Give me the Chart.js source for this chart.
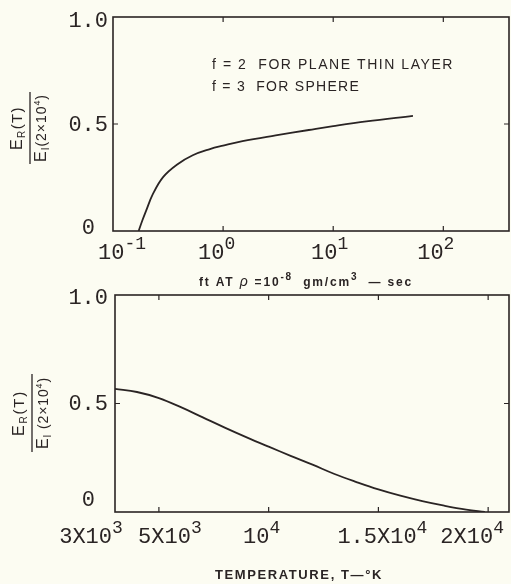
<!DOCTYPE html>
<html>
<head>
<meta charset="UTF-8">
<title>E_R(T) / E_I(2x10^4)</title>
<script src="https://cdn.jsdelivr.net/npm/chart.js"></script>
<style>
  html, body { margin: 0; padding: 0; background: #fcfcf2; }
  body { width: 511px; height: 584px; position: relative; overflow: hidden; }
  .wrap { position: absolute; left: 0; width: 511px; }
  #topWrap { top: 0; height: 292px; }
  #bottomWrap { top: 284px; height: 300px; }
</style>
</head>
<body>
<div class="wrap" id="topWrap"><canvas id="topChart"></canvas></div>
<div class="wrap" id="bottomWrap"><canvas id="bottomChart"></canvas></div>
<script>
// upper panel: ratio against ft (log axis)
const ftValues = [0.171, 0.185, 0.2, 0.23, 0.285, 0.38, 0.53, 0.76, 1.0, 1.5, 3, 6, 10, 20, 53];
const ftRatio  = [0, 0.05, 0.095, 0.172, 0.252, 0.31, 0.354, 0.383, 0.399, 0.42, 0.447, 0.472, 0.490, 0.512, 0.538];

// lower panel: ratio against temperature
const tempValues = [3000, 4000, 5000, 6000, 7000, 8000, 9000, 10000, 11000, 12000, 13000, 14000, 15000, 16000, 17000, 18000, 19000, 19850];
const tempRatio  = [0.567, 0.553, 0.525, 0.483, 0.436, 0.389, 0.344, 0.301, 0.259, 0.218, 0.175, 0.138, 0.104, 0.075, 0.050, 0.029, 0.011, 0];

const yTickValues = [0, 0.5, 1.0];
const yTickLabels = ['0', '0.5', '1.0'];

const ftTickValues = [0.1, 1, 10, 100];
const ftTickBase   = ['10', '10', '10', '10'];
const ftTickExp    = ['-1', '0', '1', '2'];

const tempTickValues = [3000, 5000, 10000, 15000, 20000];
const tempTickBase   = ['3X10', '5X10', '10', '1.5X10', '2X10'];
const tempTickExp    = ['3', '3', '4', '4', '4'];

const noteLines = ['f = 2  FOR PLANE THIN LAYER', 'f = 3  FOR SPHERE'];

const INK = '#2a2424';
const MONO = '"Liberation Mono", monospace';
const SANS = '"Liberation Sans", Arial, sans-serif';

// draws a row of text pieces (base, sub, sup ...), optionally stretched to a width
function drawRuns(ctx, runs, x, baseline, width, align) {
    ctx.save();
    let natural = 0, chars = 0;
    runs.forEach(r => {
        ctx.font = r.font;
        ctx.letterSpacing = '0px';
        r.w = ctx.measureText(r.t).width;
        natural += r.w;
        chars += r.t.length;
    });
    const extra = width ? (width - natural) / chars : 0;
    const total = natural + extra * chars;
    let cx = align === 'center' ? x - total / 2 : x;
    ctx.textAlign = 'left';
    ctx.textBaseline = 'alphabetic';
    ctx.fillStyle = INK;
    runs.forEach(r => {
        ctx.font = r.font;
        ctx.letterSpacing = extra + 'px';
        ctx.fillText(r.t, cx, baseline + (r.dy || 0));
        cx += r.w + extra * r.t.length;
    });
    ctx.restore();
}

function drawFraction(ctx, lineX, centerY, len, numW, denW, gap) {
    ctx.save();
    ctx.translate(lineX, centerY);
    ctx.rotate(-Math.PI / 2);
    ctx.strokeStyle = INK;
    ctx.lineWidth = 1.3;
    ctx.beginPath();
    ctx.moveTo(-len / 2, 0);
    ctx.lineTo(len / 2, 0);
    ctx.stroke();
    drawRuns(ctx, [
        { t: 'E', font: '16px ' + SANS },
        { t: 'R', font: '10px ' + SANS, dy: 3 },
        { t: '(T)', font: '15px ' + SANS }
    ], 0, -8, numW, 'center');
    drawRuns(ctx, [
        { t: 'E', font: '16px ' + SANS },
        { t: 'I', font: '10px ' + SANS, dy: 3 },
        { t: gap + '(2\u00d710', font: '14px ' + SANS },
        { t: '4', font: '9px ' + SANS, dy: -6 },
        { t: ')', font: '14px ' + SANS }
    ], 0, 16, denW, 'center');
    ctx.restore();
}

function framePlugin(deco) {
    return {
        id: 'frame',
        afterDraw(chart) {
            const { ctx, chartArea: a } = chart;
            const xs = chart.scales.x, ys = chart.scales.y;
            ctx.save();
            ctx.strokeStyle = INK;
            ctx.lineWidth = 1.6;
            ctx.strokeRect(a.left, a.top, a.right - a.left, a.bottom - a.top);
            ctx.lineWidth = 1.2;
            ctx.beginPath();
            deco.xMarks.forEach(v => {
                const px = xs.getPixelForValue(v);
                ctx.moveTo(px, a.top); ctx.lineTo(px, a.top + 5);
                ctx.moveTo(px, a.bottom); ctx.lineTo(px, a.bottom - 5);
            });
            deco.yMarks.forEach(v => {
                const py = ys.getPixelForValue(v);
                ctx.moveTo(a.left, py); ctx.lineTo(a.left + 5, py);
                ctx.moveTo(a.right, py); ctx.lineTo(a.right - 5, py);
            });
            ctx.stroke();

            // y tick labels
            ctx.fillStyle = INK;
            ctx.font = '22px ' + MONO;
            ctx.textAlign = 'right';
            ctx.textBaseline = 'middle';
            yTickValues.forEach((v, i) => {
                ctx.fillText(yTickLabels[i], deco.yLabelRight[i], ys.getPixelForValue(v) + deco.yLabelDy[i]);
            });

            // x tick labels with exponents
            deco.xTicks.forEach((v, i) => {
                const px = xs.getPixelForValue(v);
                drawRuns(ctx, [
                    { t: deco.xBase[i], font: '22px ' + MONO },
                    { t: deco.xExp[i], font: '18px ' + MONO, dy: -10 }
                ], px + deco.xShift[i], deco.xBaseline, 0, 'center');
            });

            drawFraction(ctx, deco.fracX, deco.fracY, deco.fracLen, deco.numW, deco.denW, deco.denGap);
            deco.extra(ctx);
            ctx.restore();
        }
    };
}

function makeChart(id, xs, ys, xScale, pad, deco) {
    return new Chart(document.getElementById(id), {
        type: 'line',
        data: {
            datasets: [{
                data: xs.map((x, i) => ({ x: x, y: ys[i] })),
                borderColor: INK,
                borderWidth: 1.8,
                pointRadius: 0,
                fill: false,
                tension: 0.4
            }]
        },
        options: {
            responsive: true,
            maintainAspectRatio: false,
            animation: false,
            events: [],
            layout: { padding: pad },
            plugins: { legend: { display: false }, tooltip: { enabled: false } },
            scales: {
                x: Object.assign({ display: false }, xScale),
                y: { type: 'linear', display: false, min: 0, max: 1 }
            }
        },
        plugins: [framePlugin(deco)]
    });
}

makeChart('topChart', ftValues, ftRatio,
    { type: 'logarithmic', min: 0.1, max: 395 },
    { left: 113, right: 2, top: 17, bottom: 61 },
    {
        xTicks: ftTickValues, xBase: ftTickBase, xExp: ftTickExp,
        xShift: [9, -6.5, -3.5, -7.5], xBaseline: 259,
        xMarks: [1, 10, 100], yMarks: [0.5],
        yLabelRight: [95, 108, 108], yLabelDy: [-3, 1, 4],
        fracX: 30, fracY: 128, fracLen: 72, numW: 44, denW: 68, denGap: '',
        extra(ctx) {
            drawRuns(ctx, [{ t: noteLines[0], font: '14px ' + SANS }], 212, 69, 242, 'left');
            drawRuns(ctx, [{ t: noteLines[1], font: '14px ' + SANS }], 212, 91, 148, 'left');
            drawRuns(ctx, [
                { t: 'ft AT ', font: 'bold 12px ' + SANS },
                { t: '\u03c1', font: 'italic 14px ' + SANS },
                { t: ' =10', font: 'bold 12px ' + SANS },
                { t: '-8', font: 'bold 10px ' + SANS, dy: -6 },
                { t: '  gm/cm', font: 'bold 12px ' + SANS },
                { t: '3', font: 'bold 10px ' + SANS, dy: -6 },
                { t: '  \u2014 sec', font: 'bold 12px ' + SANS }
            ], 306, 286, 214, 'center');
        }
    });

makeChart('bottomChart', tempValues, tempRatio,
    { type: 'linear', min: 3000, max: 20950 },
    { left: 115, right: 2, top: 11, bottom: 72 },
    {
        xTicks: tempTickValues, xBase: tempTickBase, xExp: tempTickExp,
        xShift: [-24, 11, -7, 4, -16], xBaseline: 259,
        xMarks: [5000, 10000, 15000, 20000], yMarks: [0.5],
        yLabelRight: [95, 108, 108], yLabelDy: [-12, 1, 3],
        fracX: 32, fracY: 129, fracLen: 78, numW: 46, denW: 72, denGap: ' ',
        extra(ctx) {
            drawRuns(ctx, [{ t: 'TEMPERATURE, T\u2014\u00b0K', font: 'bold 13px ' + SANS }], 299, 295, 168, 'center');
        }
    });
</script>
</body>
</html>
